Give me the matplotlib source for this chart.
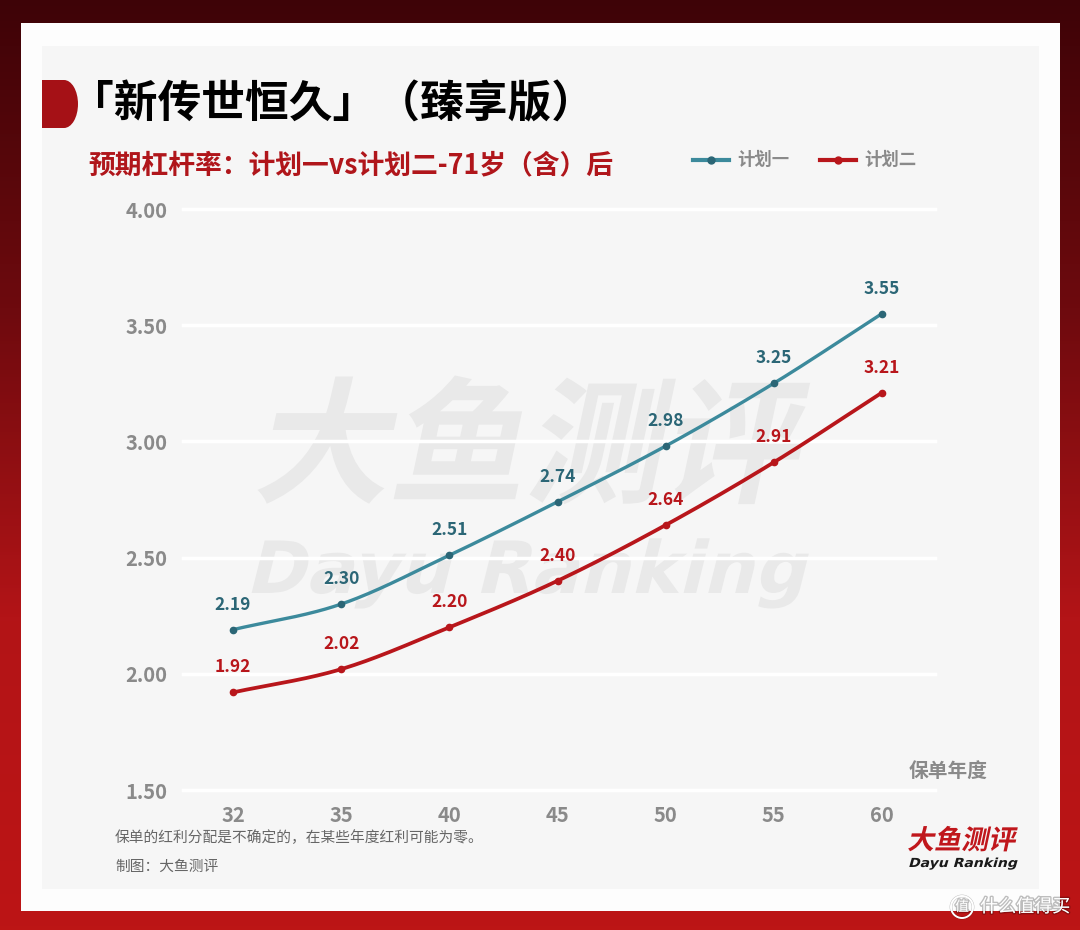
import numpy as np
import matplotlib
matplotlib.use('Agg')
import matplotlib.pyplot as plt
import matplotlib.patheffects as pe
from matplotlib.patches import Rectangle, Ellipse, PathPatch, Circle
from matplotlib.textpath import TextPath
from matplotlib.font_manager import FontProperties
from matplotlib.transforms import Affine2D
from matplotlib.colors import LinearSegmentedColormap
from matplotlib.lines import Line2D

plt.rcParams['font.family'] = ['Noto Sans CJK SC', 'DejaVu Sans']

# 数据
years = ['32', '35', '40', '45', '50', '55', '60']
plan1 = [2.19, 2.30, 2.51, 2.74, 2.98, 3.25, 3.55]
plan2 = [1.92, 2.02, 2.20, 2.40, 2.64, 2.91, 3.21]
y_ticks = [1.50, 2.00, 2.50, 3.00, 3.50, 4.00]
series_names = ['计划一', '计划二']

TEAL = '#3C8A9C'
TEAL_DARK = '#2B6676'
RED = '#B8161B'
GRAY = '#8A8A8A'

W, H = 1080, 930


def smooth(vals, n=40):
    # Catmull-Rom 平滑曲线
    y = np.asarray(vals, dtype=float)
    p = np.concatenate([[2 * y[0] - y[1]], y, [2 * y[-1] - y[-2]]])
    xs, ys = [], []
    for i in range(len(y) - 1):
        t = np.linspace(0, 1, n, endpoint=False)
        p0, p1, p2, p3 = p[i:i + 4]
        ys.append(0.5 * (2 * p1 + (-p0 + p2) * t + (2 * p0 - 5 * p1 + 4 * p2 - p3) * t ** 2
                         + (-p0 + 3 * p1 - 3 * p2 + p3) * t ** 3))
        xs.append(i + t)
    xs.append([len(y) - 1])
    ys.append([y[-1]])
    return np.concatenate(xs), np.concatenate(ys)


def skew_text(ax, x, y, s, size, color, family, weight='bold', skew=12, zorder=2, sx=1.0):
    fp = FontProperties(family=family, weight=weight)
    tp = TextPath((0, 0), s, size=size, prop=fp)
    tr = Affine2D().skew_deg(skew, 0).scale(sx, -1).translate(x, y)
    ax.add_patch(PathPatch(tr.transform_path(tp), fc=color, ec='none', zorder=zorder))


fig = plt.figure(figsize=(W / 100, H / 100), dpi=100)

# 背景
bg = fig.add_axes([0, 0, 1, 1])
bg.set_xlim(0, W)
bg.set_ylim(H, 0)
bg.axis('off')
cmap = LinearSegmentedColormap.from_list('bg', ['#3E0307', '#6E0A0E', '#B31417', '#BC1515'])
grad = np.linspace(0, 1, 256).reshape(-1, 1)
bg.imshow(grad, cmap=cmap, extent=[0, W, H, 0], aspect='auto', zorder=0)
bg.add_patch(Rectangle((21, 23), 1039, 888, fc='#FDFDFD', ec='none', zorder=1))
bg.add_patch(Rectangle((42, 46), 997, 843, fc='#F6F6F6', ec='none', zorder=1))

# 标题左侧红色标签
bg.add_patch(Rectangle((42, 80), 22, 48, fc='#A51116', ec='none', zorder=2))
bg.add_patch(Ellipse((64, 104), 28, 48, fc='#A51116', ec='none', zorder=2))

bg.text(70, 104, '「新传世恒久」（臻享版）', fontsize=31.5, fontweight='bold',
        color='black', va='center', ha='left', zorder=3)
bg.text(88, 165, '预期杠杆率：计划一vs计划二-71岁（含）后', fontsize=19.3,
        fontweight='bold', color='#B0161B', va='center', ha='left', zorder=3)

# 图例
for (x0, c, mc, name) in [(693, TEAL, TEAL_DARK, series_names[0]),
                          (820, RED, RED, series_names[1])]:
    bg.add_line(Line2D([x0, x0 + 36], [160, 160], color=c, lw=3, zorder=3))
    bg.plot([x0 + 18], [160], 'o', color=mc, ms=5, zorder=4)
    bg.text(x0 + 44, 160, name, fontsize=12.5, fontweight='bold', color=GRAY,
            va='center', ha='left', zorder=3)

# 水印
skew_text(bg, 252, 492, '大鱼测评', 136, '#E9E9E9', 'Noto Sans CJK SC', weight='heavy')
skew_text(bg, 245, 593, 'Dayu Ranking', 72, '#E9E9E9', 'DejaVu Sans', weight='bold', skew=14)

# 脚注
bg.text(115, 838, '保单的红利分配是不确定的，在某些年度红利可能为零。', fontsize=10.6,
        color='#666666', va='center', ha='left', zorder=3)
bg.text(115, 867, '制图：大鱼测评', fontsize=10.6, color='#666666',
        va='center', ha='left', zorder=3)

# 右下角 logo
skew_text(bg, 907, 849, '大鱼测评', 27, '#C0171C', 'Noto Sans CJK SC', weight='heavy', zorder=3)
skew_text(bg, 908, 867, 'Dayu Ranking', 12.5, '#1A1A1A', 'DejaVu Sans', weight='bold',
          skew=14, zorder=3, sx=1.12)

# 什么值得买 水印
shadow = [pe.withStroke(linewidth=2, foreground=(0, 0, 0, 0.25))]
bg.add_patch(Circle((962, 907), 11, fc='none', ec='white', lw=1.4, zorder=3,
                    path_effects=shadow))
bg.text(962, 907, '值', fontsize=10, color='white', ha='center', va='center', zorder=4,
        path_effects=shadow)
bg.text(980, 907, '什么值得买', fontsize=13, color='white', ha='left', va='center', zorder=4,
        path_effects=shadow)

# 主图
ax = fig.add_axes([183 / W, 1 - 790 / H, 752 / W, 581 / H])
ax.set_facecolor('none')
xi = np.arange(len(years))
xl = -(233 - 183) / 108.17
xr = 6 + (935 - 882) / 108.17
ax.set_xlim(xl, xr)
ax.set_ylim(1.5, 4.0)
for sp in ax.spines.values():
    sp.set_visible(False)
ax.set_yticks(y_ticks)
ax.set_yticklabels([f'{v:.2f}' for v in y_ticks])
ax.set_xticks(xi)
ax.set_xticklabels(years)
ax.tick_params(length=0, labelsize=14.5, labelcolor=GRAY)
ax.tick_params(axis='x', pad=11)
ax.tick_params(axis='y', pad=11)
for lab in ax.get_xticklabels() + ax.get_yticklabels():
    lab.set_fontweight('bold')
ax.set_axisbelow(True)
for v in y_ticks:
    ax.axhline(v, color='white', lw=2.5, zorder=1, clip_on=False)

for vals, c, mc, lc, lw in [(plan1, TEAL, TEAL_DARK, TEAL_DARK, 2.4),
                            (plan2, RED, RED, RED, 2.7)]:
    sx, sy = smooth(vals)
    ax.plot(sx, sy, color=c, lw=lw, zorder=3, solid_capstyle='round')
    ax.plot(xi, vals, 'o', color=mc, ms=4.5, zorder=4)
    for x, v in zip(xi, vals):
        ax.annotate(f'{v:.2f}', (x, v), xytext=(0, 18), textcoords='offset points',
                    ha='center', va='center', fontsize=12.5, fontweight='bold',
                    color=lc, zorder=5)

bg.text(948, 771, '保单年度', fontsize=14.2, fontweight='bold', color=GRAY,
        ha='center', va='center', zorder=3)

fig.savefig('out.png', dpi=100)
